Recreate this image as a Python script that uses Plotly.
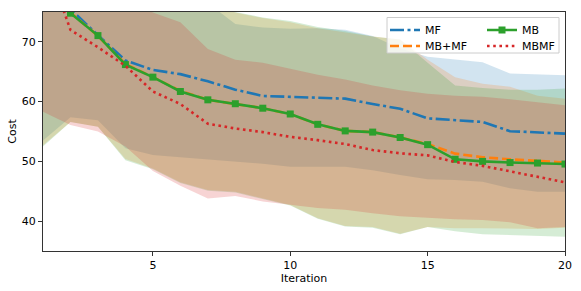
import plotly.graph_objects as go

iterations = list(range(1, 21))

mf_mean = [85, 75.5, 71.1, 66.9, 65.3, 64.6, 63.4, 62.0, 60.95, 60.8, 60.75, 60.5, 59.6, 58.8, 57.2, 56.9, 56.6, 55.05, 54.8, 54.65]
mbmf_plus_mean = [85, 74.9, 71.0, 66.3, 64.1, 61.8, 60.3, 59.6, 58.9, 57.9, 56.2, 55.1, 54.9, 54.0, 52.9, 51.3, 50.7, 50.35, 50.1, 49.8]
mb_mean = [85, 74.8, 71.05, 66.2, 64.1, 61.7, 60.3, 59.65, 58.9, 57.93, 56.2, 55.1, 54.9, 54.0, 52.8, 50.35, 50.0, 49.8, 49.72, 49.55]
mbmf_mean = [85, 72.0, 69.1, 66.0, 61.7, 59.6, 56.3, 55.5, 54.9, 54.1, 53.55, 52.9, 51.9, 51.35, 51.0, 49.9, 49.25, 48.3, 47.4, 46.5]

mf_upper = [90, 88, 85, 82, 80, 78, 76.5, 73.0, 72.4, 72.2, 72.3, 72.05, 71.0, 68.9, 67.5, 67.1, 66.6, 64.7, 64.5, 64.4]
mf_lower = [53.5, 57.4, 56.9, 52.2, 51.05, 50.7, 50.3, 50.0, 49.6, 49.1, 49.1, 49.1, 48.5, 47.7, 47.0, 46.9, 46.6, 45.5, 44.9, 44.9]
mbmf_plus_upper = [90, 88, 85, 82, 80, 78, 77, 74.9, 74.0, 73.3, 72.3, 71.6, 70.9, 70.4, 67.0, 64.1, 63.0, 62.5, 61.0, 60.5]
mbmf_plus_lower = [52.7, 56.6, 55.8, 50.4, 48.8, 46.5, 45.2, 44.9, 43.8, 42.7, 40.5, 39.2, 39.0, 37.9, 39.0, 38.8, 38.8, 38.8, 38.7, 38.9]
mb_upper = [90, 88, 85, 82, 80, 78, 77, 75.0, 74.1, 73.5, 72.5, 71.8, 70.9, 70.4, 66.5, 62.7, 62.3, 62.0, 62.0, 62.2]
mb_lower = [52.5, 56.6, 55.8, 50.2, 48.7, 46.4, 45.1, 44.8, 43.7, 42.6, 40.4, 39.1, 38.9, 37.8, 39.0, 38.3, 37.8, 37.6, 37.5, 37.4]
mbmf_upper = [90, 88, 85, 78, 74.9, 73.3, 68.8, 67.0, 66.5, 65.5, 64.5, 63.7, 62.7, 61.9, 61.3, 61.0, 60.8, 60.4, 59.9, 59.4]
mbmf_lower = [58.3, 56.1, 55.0, 52.5, 48.4, 45.9, 43.8, 44.2, 43.3, 42.7, 42.2, 41.9, 41.3, 40.8, 40.6, 40.3, 40.2, 39.8, 38.8, 39.0]

x_ticks = [5, 10, 15, 20]
y_ticks = [40, 50, 60, 70]

BLUE, ORANGE, GREEN, RED = "#1f77b4", "#ff7f0e", "#2ca02c", "#d62728"
FONT = "DejaVu Sans"
FS = 11

fig = go.Figure()

bands = [
    (mf_upper, mf_lower, "rgba(31,119,180,0.2)"),
    (mbmf_plus_upper, mbmf_plus_lower, "rgba(255,127,14,0.2)"),
    (mb_upper, mb_lower, "rgba(44,160,44,0.2)"),
    (mbmf_upper, mbmf_lower, "rgba(214,39,40,0.2)"),
]
for up, lo, col in bands:
    fig.add_trace(go.Scatter(
        x=iterations + iterations[::-1], y=up + lo[::-1],
        fill="toself", fillcolor=col, line=dict(width=0),
        mode="lines", showlegend=False, hoverinfo="skip"))

fig.add_trace(go.Scatter(x=iterations, y=mf_mean, name="MF", mode="lines",
                         line=dict(color=BLUE, width=2.6, dash="14px,3.5px,3px,3.5px"),
                         legend="legend"))
fig.add_trace(go.Scatter(x=iterations, y=mbmf_plus_mean, name="MB+MF", mode="lines",
                         line=dict(color=ORANGE, width=2.6, dash="9px,4px"),
                         legend="legend2"))
fig.add_trace(go.Scatter(x=iterations, y=mb_mean, name="MB", mode="lines+markers",
                         line=dict(color=GREEN, width=2.6),
                         marker=dict(symbol="square", size=7, color=GREEN),
                         legend="legend3"))
fig.add_trace(go.Scatter(x=iterations, y=mbmf_mean, name="MBMF", mode="lines",
                         line=dict(color=RED, width=2.6, dash="2.6px,3.6px"),
                         legend="legend4"))

L, R, T, B = 43, 16, 12, 40
W, H = 581, 291
pw, ph = W - L - R, H - T - B

def px2paper_x(px):
    return (px - L) / pw

def px2paper_y(py):
    return (H - B - py) / ph

fig.add_shape(type="rect", xref="paper", yref="paper",
              x0=px2paper_x(387), x1=px2paper_x(559),
              y0=px2paper_y(53), y1=px2paper_y(17.5),
              fillcolor="rgba(255,255,255,0.8)", line=dict(color="#cccccc", width=1),
              layer="above")

leg_common = dict(bgcolor="rgba(0,0,0,0)", borderwidth=0, font=dict(family=FONT, size=FS, color="#000"),
                  yanchor="top", xanchor="left", tracegroupgap=0, itemwidth=30)

col1, col2 = px2paper_x(385), px2paper_x(482)
row1, row2 = px2paper_y(15.5), px2paper_y(31.5)

fig.update_layout(
    width=W, height=H,
    margin=dict(l=L, r=R, t=T, b=B, autoexpand=False),
    paper_bgcolor="white", plot_bgcolor="white",
    font=dict(family=FONT, size=FS, color="#000"),
    legend=dict(x=col1, y=row1, **leg_common),
    legend2=dict(x=col1, y=row2, **leg_common),
    legend3=dict(x=col2, y=row1, **leg_common),
    legend4=dict(x=col2, y=row2, **leg_common),
    xaxis=dict(range=[1, 20], tickvals=x_ticks, ticktext=[str(v) for v in x_ticks],
               showgrid=False, zeroline=False, showline=True, mirror=True,
               linecolor="#333", linewidth=1, ticks="outside", ticklen=4, tickcolor="#333",
               tickfont=dict(size=FS),
               title=dict(text="Iteration", standoff=1, font=dict(size=FS))),
    yaxis=dict(range=[35, 75], tickvals=y_ticks, ticktext=[str(v) for v in y_ticks],
               showgrid=False, zeroline=False, showline=True, mirror=True,
               linecolor="#333", linewidth=1, ticks="outside", ticklen=4, tickcolor="#333",
               tickfont=dict(size=FS),
               title=dict(text="Cost", standoff=2, font=dict(size=FS))),
)

fig.write_html("out.html", config={"displayModeBar": False},
               post_script="document.body.style.margin='0';document.body.style.padding='0';")
